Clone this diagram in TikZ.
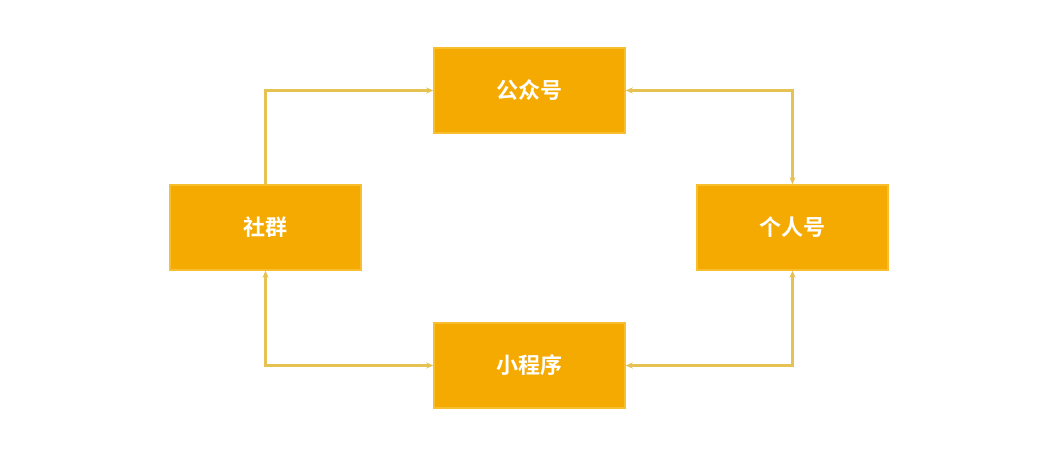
\documentclass[tikz,border=0pt]{standalone}
\usepackage{fontspec}
\newfontfamily\cjk{Noto Sans CJK SC Bold}
\usetikzlibrary{arrows.meta}
\definecolor{boxfill}{HTML}{F4AA00}
\definecolor{boxedge}{HTML}{F7BE2E}
\definecolor{linecol}{HTML}{E6C253}
\tikzset{
  box/.style={draw=boxedge, line width=1.5pt, fill=boxfill, minimum width=191pt, minimum height=85pt, inner sep=0pt, text=white, font=\cjk\fontsize{22pt}{26pt}\selectfont},
  conn/.style={draw=linecol, line width=2.4pt, arrows={-Stealth[length=7pt,width=6pt]}},
  conn2/.style={draw=linecol, line width=2.4pt, arrows={Stealth[length=7pt,width=6pt]-Stealth[length=7pt,width=6pt]}}
}
\begin{document}
\begin{tikzpicture}[x=1pt,y=-1pt]
\useasboundingbox (0,0) rectangle (1058,476);
\fill[white] (0,0) rectangle (1058,476);
\node[box] (gzh) at (529.5,90.5) {公众号};
\node[box] (sq) at (265.5,227.5) {社群};
\node[box] (grh) at (792.5,227.5) {个人号};
\node[box] (xcx) at (529.5,365.5) {小程序};
\draw[conn] (sq.north) |- (gzh.west);
\draw[conn2] (grh.north) |- (gzh.east);
\draw[conn2] (sq.south) |- (xcx.west);
\draw[conn2] (grh.south) |- (xcx.east);
\end{tikzpicture}
\end{document}
